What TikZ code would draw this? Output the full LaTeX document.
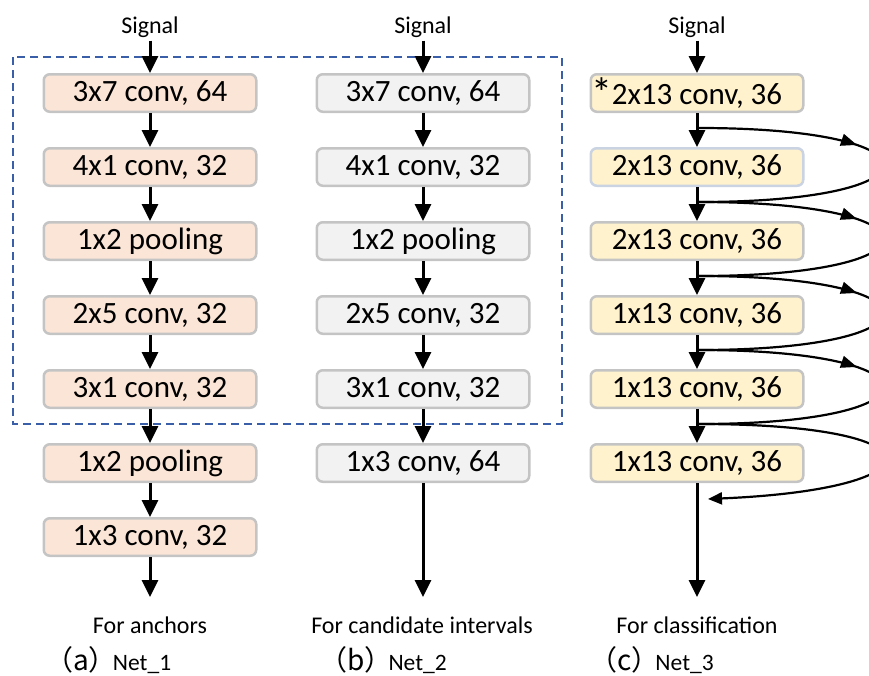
\documentclass[tikz,border=0pt]{standalone}
\usepackage{fontspec}
\setmainfont{Carlito}
\newfontfamily\cjkfont{Noto Sans CJK SC}
\usetikzlibrary{arrows.meta,decorations.markings}
\definecolor{peach}{HTML}{FBE5D6}
\definecolor{lgray}{HTML}{F2F2F2}
\definecolor{lyellow}{HTML}{FFF2CC}
\definecolor{boxline}{HTML}{C4C4C4}
\definecolor{boxlineb}{HTML}{C9D3E2}
\definecolor{dashblue}{HTML}{3A5FA8}
\begin{document}
\begin{tikzpicture}[x=1pt,y=-1pt,
  box/.style={draw=boxline, line width=2.5pt, rounded corners=6pt,
    minimum width=212.5pt, minimum height=37.5pt, inner sep=0pt,
    font=\fontsize{31}{36}\selectfont},
  boxa/.style={box, fill=peach},
  boxb/.style={box, fill=lgray},
  boxc/.style={box, fill=lyellow},
  lbl/.style={font=\fontsize{24}{28}\selectfont, inner sep=3pt},
  captext/.style={font=\fontsize{23.5}{28}\selectfont, inner sep=0pt, anchor=base west},
  arr/.style={line width=3pt, -{Triangle[length=17pt,width=16pt]}},
  curve/.style={line width=2.2pt},
  midarr/.style={postaction={decorate}, decoration={markings,
    mark=at position 0.41 with {\arrow{Triangle[length=16pt,width=12pt]}}}},
  endarr/.style={-{Triangle[length=14pt,width=12pt]}}
]
\useasboundingbox (0,0) rectangle (869,675);
\clip (0,0) rectangle (869,675);

% dashed frame
\draw[dashblue, line width=1.6pt, dash pattern=on 8pt off 5pt] (13,57) rectangle (562,424);

% Signal labels
\node[lbl] (s1) at (150,27) {Signal};
\node[lbl] (s2) at (423,27) {Signal};
\node[lbl] (s3) at (697,27) {Signal};

% column 1
\node[boxa] (n1a) at (150,93) {3x7 conv, 64};
\node[boxa] (n1b) at (150,167) {4x1 conv, 32};
\node[boxa] (n1c) at (150,241) {1x2 pooling};
\node[boxa] (n1d) at (150,315) {2x5 conv, 32};
\node[boxa] (n1e) at (150,389) {3x1 conv, 32};
\node[boxa] (n1f) at (150,463) {1x2 pooling};
\node[boxa] (n1g) at (150,537) {1x3 conv, 32};

% column 2
\node[boxb] (n2a) at (423,93) {3x7 conv, 64};
\node[boxb] (n2b) at (423,167) {4x1 conv, 32};
\node[boxb] (n2c) at (423,241) {1x2 pooling};
\node[boxb] (n2d) at (423,315) {2x5 conv, 32};
\node[boxb] (n2e) at (423,389) {3x1 conv, 32};
\node[boxb] (n2f) at (423,463) {1x3 conv, 64};

% column 3
\node[boxc] (n3a) at (697,93) {\llap{\raisebox{-3pt}{\fontsize{42}{42}\selectfont *}\kern-1pt}2x13 conv, 36};
\node[boxc, draw=boxlineb] (n3b) at (697,167) {2x13 conv, 36};
\node[boxc] (n3c) at (697,241) {2x13 conv, 36};
\node[boxc] (n3d) at (697,315) {1x13 conv, 36};
\node[boxc] (n3e) at (697,389) {1x13 conv, 36};
\node[boxc] (n3f) at (697,463) {1x13 conv, 36};

% end points
\coordinate (e1) at (150,597);
\coordinate (e2) at (423,597);
\coordinate (e3) at (697,597);

% arrows column 1
\draw[arr] (s1) -- (n1a);
\draw[arr] (n1a) -- (n1b);
\draw[arr] (n1b) -- (n1c);
\draw[arr] (n1c) -- (n1d);
\draw[arr] (n1d) -- (n1e);
\draw[arr] (n1e) -- (n1f);
\draw[arr] (n1f) -- (n1g);
\draw[arr] (n1g) -- (e1);

% arrows column 2
\draw[arr] (s2) -- (n2a);
\draw[arr] (n2a) -- (n2b);
\draw[arr] (n2b) -- (n2c);
\draw[arr] (n2c) -- (n2d);
\draw[arr] (n2d) -- (n2e);
\draw[arr] (n2e) -- (n2f);
\draw[arr] (n2f) -- (e2);

% arrows column 3
\draw[arr] (s3) -- (n3a);
\draw[arr] (n3a) -- (n3b);
\draw[arr] (n3b) -- (n3c);
\draw[arr] (n3c) -- (n3d);
\draw[arr] (n3d) -- (n3e);
\draw[arr] (n3e) -- (n3f);
\draw[arr] (n3f) -- (e3);

% skip connections
\coordinate (j1) at (699,128);
\coordinate (j2) at (699,202);
\coordinate (j3) at (699,276);
\coordinate (j4) at (699,350);
\coordinate (j5) at (699,424);
\coordinate (j6) at (708,499);
\draw[curve, midarr] (j1) .. controls +(246,0) and +(246,0) .. (j2);
\draw[curve, midarr] (j2) .. controls +(246,0) and +(246,0) .. (j3);
\draw[curve, midarr] (j3) .. controls +(246,0) and +(246,0) .. (j4);
\draw[curve, midarr] (j4) .. controls +(246,0) and +(246,0) .. (j5);
\draw[curve, endarr] (j5) .. controls +(246,0) and +(236,-10) .. (j6);

% output labels
\node[lbl] (o1) at (150,625) {For anchors};
\node[lbl] (o2) at (422,625) {For candidate intervals};
\node[lbl] (o3) at (697,625) {For classification};

% captions
\node[captext] (c1) at (45,670) {{\cjkfont\fontsize{28}{28}\selectfont （a）}\kern-4pt Net\_1};
\node[captext] (c2) at (319,670) {{\cjkfont\fontsize{28}{28}\selectfont （b）}\kern-4pt Net\_2};
\node[captext] (c3) at (589,670) {{\cjkfont\fontsize{28}{28}\selectfont （c）}\kern-4pt Net\_3};
\end{tikzpicture}
\end{document}
